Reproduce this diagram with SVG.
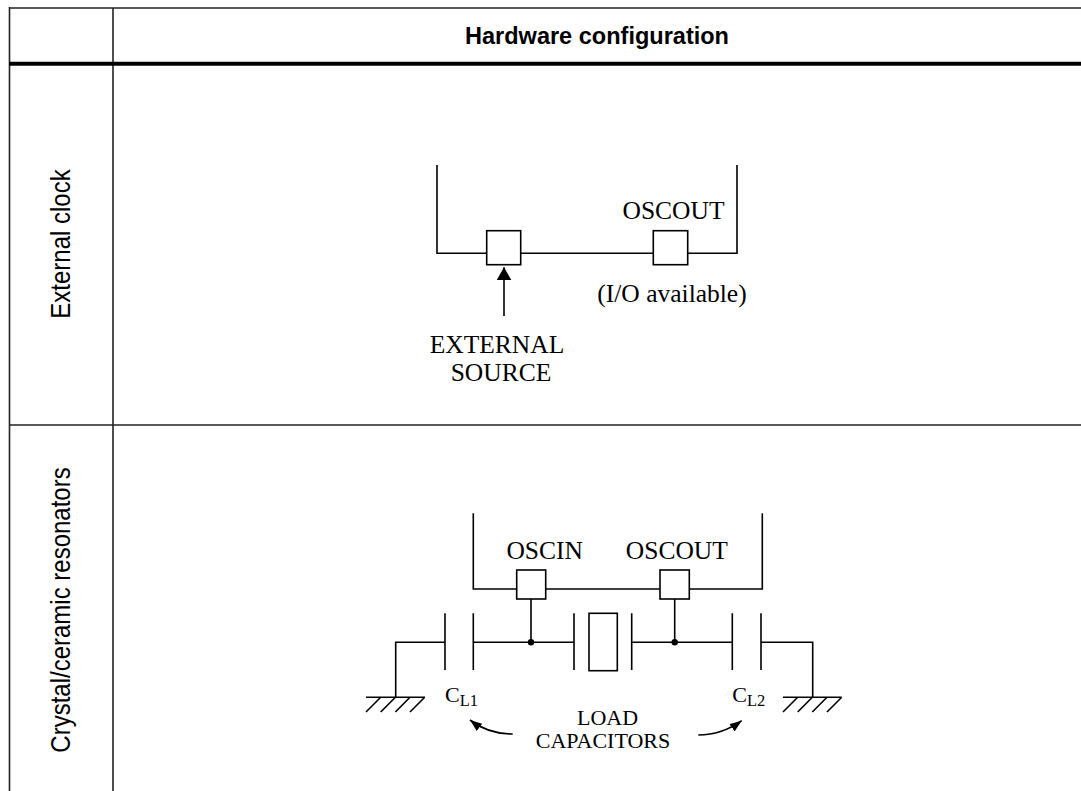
<svg xmlns="http://www.w3.org/2000/svg" width="1081" height="791" viewBox="0 0 1081 791">
<style>
.tb{stroke:#222;stroke-width:1.6;fill:none}
.w{stroke:#000;stroke-width:1.6;fill:none}
.pin{fill:#fff;stroke:#000;stroke-width:1.6}
.lbl{font-family:"Liberation Serif","Times New Roman",serif;font-size:25.5px;fill:#000}
.sm{font-size:22px}
.sub{font-size:16.5px}
.sans{font-family:"Liberation Sans",Arial,sans-serif;fill:#000}
</style>
<defs>
<marker id="ah" viewBox="0 0 13 15" refX="13" refY="7.5" markerWidth="13" markerHeight="15" orient="auto" markerUnits="userSpaceOnUse"><path d="M0,0 L13,7.5 L0,15 z" fill="#000"/></marker>
<marker id="ah2" viewBox="0 0 12 9" refX="12" refY="4.5" markerWidth="12" markerHeight="9" orient="auto" markerUnits="userSpaceOnUse"><path d="M0,0 L12,4.5 L0,9 z" fill="#000"/></marker>
</defs>
<rect x="0" y="0" width="1081" height="791" fill="#fff"/>
<g id="table">
<line class="tb" x1="9" y1="8" x2="1081" y2="8" stroke-width="2.2"/>
<line class="tb" x1="9.5" y1="7" x2="9.5" y2="791"/>
<line class="tb" x1="113" y1="8" x2="113" y2="791"/>
<line x1="9" y1="63.7" x2="1081" y2="63.7" stroke="#000" stroke-width="4"/>
<line class="tb" x1="9" y1="425" x2="1081" y2="425"/>
</g>
<g id="header">
<text class="sans" x="597" y="44" text-anchor="middle" font-weight="bold" font-size="23.5" textLength="264" lengthAdjust="spacingAndGlyphs">Hardware configuration</text>
</g>
<g id="label-external">
<text class="sans" font-size="24" text-anchor="middle" transform="translate(70,244) scale(1.17,1) rotate(-90)">External clock</text>
</g>
<g id="label-crystal">
<text class="sans" font-size="24" text-anchor="middle" transform="translate(70,610) scale(1.17,1) rotate(-90)">Crystal/ceramic resonators</text>
</g>
<g id="connectors">
<path class="w" d="M437,165 V253.3 H486.7 M520.7,253.3 H653.3 M687.7,253.3 H737 V165"/>
<line class="w" x1="504" y1="316" x2="504" y2="267.3" marker-end="url(#ah)"/>
<path class="w" d="M473.3,513.3 V589 H516.7 M545.7,589 H660 M689.3,589 H762.3 V513.3"/>
<path class="w" d="M531,599 V642.3 M674.7,599 V642.3"/>
<path class="w" d="M473.3,642.3 H574 M631.7,642.3 H732.3 M445,642.3 H395.7 V697.3 M761,642.3 H812.7 V697.3"/>
<circle cx="531" cy="642.3" r="3.2" fill="#000"/>
<circle cx="674.7" cy="642.3" r="3.2" fill="#000"/>
<path class="w" d="M512.7,734 Q488,734 470,720" marker-end="url(#ah2)"/>
<path class="w" d="M698.3,735 Q722,735 741.7,720.7" marker-end="url(#ah2)"/>
</g>
<g id="pin-ext-in"><rect class="pin" x="486.7" y="230.7" width="34" height="34"/></g>
<g id="pin-ext-out"><rect class="pin" x="653.3" y="230.7" width="34.4" height="34"/>
<text class="lbl" x="673.5" y="219" text-anchor="middle">OSCOUT</text>
<text class="lbl" x="672" y="301.7" text-anchor="middle">(I/O available)</text></g>
<g id="ext-source"><text class="lbl" x="497" y="353.3" text-anchor="middle">EXTERNAL</text>
<text class="lbl" x="501" y="380.7" text-anchor="middle">SOURCE</text></g>
<g id="pin-oscin"><rect class="pin" x="516.7" y="570" width="29" height="29"/>
<text class="lbl" x="544.7" y="559" text-anchor="middle">OSCIN</text></g>
<g id="pin-oscout"><rect class="pin" x="660" y="570" width="29.3" height="29"/>
<text class="lbl" x="676.8" y="559" text-anchor="middle">OSCOUT</text></g>
<g id="cap-cl1"><path class="w" d="M445,613.3 V670 M473.3,613.3 V670"/>
<text class="lbl sm" x="445" y="701.7">C<tspan class="sub" dy="4.3">L1</tspan></text></g>
<g id="crystal"><path class="w" d="M574,613.3 V670 M631.7,613.3 V670"/>
<rect class="w" x="589" y="613.3" width="28.3" height="57.4"/></g>
<g id="cap-cl2"><path class="w" d="M732.3,613.3 V670 M761,613.3 V670"/>
<text class="lbl sm" x="732.3" y="701.7">C<tspan class="sub" dy="4.3">L2</tspan></text></g>
<g id="ground-left"><path class="w" d="M366,697.3 H425 M380.7,697.3 L366,712 M395.4,697.3 L380.7,712 M410,697.3 L395.4,712 M424.7,697.3 L410,712"/></g>
<g id="ground-right"><path class="w" d="M783,697.3 H841.7 M797.7,697.3 L783,712 M812.3,697.3 L797.7,712 M827,697.3 L812.3,712 M841.7,697.3 L827,712"/></g>
<g id="load-label"><text class="lbl sm" x="607.5" y="725" text-anchor="middle">LOAD</text>
<text class="lbl sm" x="603" y="748.3" text-anchor="middle">CAPACITORS</text></g>
</svg>
